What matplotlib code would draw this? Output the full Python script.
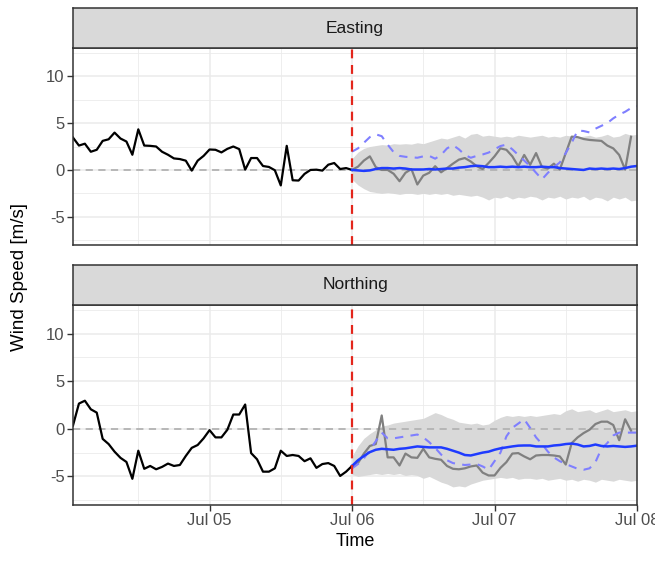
import matplotlib
matplotlib.use('Agg')
import matplotlib.pyplot as plt
import matplotlib.dates as mdates
import pandas as pd

plt.rcParams['font.family'] = ['Liberation Sans', 'DejaVu Sans']
plt.rcParams['axes.unicode_minus'] = False

# ---------------- data ----------------
obs_time = pd.date_range('2021-07-04 01:00', periods=48, freq='h')
fc_time = pd.date_range('2021-07-06 00:00', periods=49, freq='h')
act_time = pd.date_range('2021-07-06 00:00', periods=48, freq='h')

panel_names = ['Easting', 'Northing']

east_obs = [3.45, 2.6, 2.8, 1.94, 2.15, 3.1, 3.27, 3.98, 3.35, 3.03, 1.62, 4.33,
            2.6, 2.57, 2.5, 1.94, 1.62, 1.23, 1.16, 0.99, -0.07, 0.99, 1.5, 2.18,
            2.15, 1.87, 2.25, 2.5, 2.22, 0.03, 1.27, 1.27, 0.42, 0.32, -0.03, -1.65,
            2.57, -1.1, -1.13, -0.42, 0.0, 0.03, -0.07, 0.56, 0.74, 0.1, 0.2, 0.0]
north_obs = [0.35, 2.65, 2.95, 2.05, 1.7, -1.06, -1.6, -2.4, -3.05, -3.48, -5.25, -2.3,
             -4.2, -3.9, -4.25, -4.0, -3.65, -3.9, -3.8, -2.85, -2.0, -1.7, -1.0, -0.14,
             -0.9, -0.9, -0.1, 1.5, 1.5, 2.55, -2.55, -3.2, -4.5, -4.5, -4.15, -2.3,
             -2.85, -2.75, -2.85, -3.4, -3.1, -4.1, -3.7, -3.6, -3.9, -4.95, -4.5, -3.9]

east_mean = [0.0, -0.05, -0.1, -0.05, 0.1, 0.2, 0.2, 0.15, 0.2, 0.15, 0.05, 0.05,
             0.05, 0.1, 0.05, 0.1, 0.15, 0.15, 0.25, 0.3, 0.4, 0.45, 0.4, 0.3,
             0.3, 0.35, 0.3, 0.35, 0.3, 0.35, 0.3, 0.3, 0.35, 0.3, 0.3, 0.2,
             0.15, 0.1, 0.05, 0.0, 0.15, 0.1, 0.15, 0.1, 0.15, 0.1, 0.2, 0.35, 0.42]
north_mean = [-3.9, -3.3, -2.85, -2.45, -2.2, -2.1, -2.15, -2.2, -2.1, -2.05, -1.95, -1.85,
              -1.9, -1.95, -1.95, -1.95, -2.1, -2.3, -2.5, -2.75, -2.8, -2.65, -2.5, -2.4,
              -2.2, -2.05, -1.95, -1.85, -1.77, -1.75, -1.75, -1.85, -1.85, -1.85, -1.75, -1.7,
              -1.6, -1.55, -1.65, -1.85, -1.8, -1.65, -1.8, -1.85, -1.8, -1.85, -1.9, -1.85, -1.77]

east_upper = [1.2, 1.9, 2.3, 2.5, 2.6, 2.7, 2.65, 2.8, 2.75, 2.8, 2.75, 2.9,
              2.8, 3.0, 3.2, 3.4, 3.3, 3.5, 3.7, 3.4, 3.8, 3.9, 3.6, 3.7,
              3.6, 3.5, 3.6, 3.5, 3.7, 3.6, 3.5, 3.6, 3.7, 3.5, 3.6, 3.5,
              3.7, 3.6, 3.5, 3.6, 3.7, 3.5, 3.6, 3.8, 3.5, 3.6, 3.9, 3.7, 3.8]
east_lower = [-1.0, -1.6, -2.0, -2.3, -2.4, -2.5, -2.4, -2.5, -2.6, -2.5, -2.5, -2.6,
              -2.5, -2.6, -2.5, -2.6, -2.5, -2.7, -2.6, -2.7, -2.8, -2.7, -2.9, -3.2,
              -2.9, -3.0, -2.8, -3.1, -2.9, -3.0, -2.8, -2.9, -3.2, -2.9, -3.0, -2.8,
              -3.1, -2.9, -3.0, -2.8, -3.2, -2.9, -3.0, -3.3, -2.9, -3.1, -2.9, -3.3, -3.2]
north_upper = [-2.9, -1.8, -1.0, -0.5, -0.1, 0.3, 0.4, 0.6, 0.7, 0.8, 0.9, 1.0,
               1.1, 1.4, 1.7, 1.5, 1.2, 1.0, 0.7, 0.6, 0.5, 0.6, 0.4, 0.5,
               0.9, 1.2, 1.4, 1.3, 1.4, 1.3, 1.4, 1.3, 1.4, 1.5, 1.6, 1.5,
               1.9, 2.1, 1.8, 1.9, 2.0, 1.7, 1.9, 2.1, 1.8, 1.9, 2.0, 1.8, 1.9]
north_lower = [-4.8, -5.0, -4.9, -4.8, -4.7, -4.8, -4.7, -4.8, -4.7, -4.9, -4.8, -4.9,
               -5.2, -5.0, -5.3, -5.6, -5.8, -6.1, -6.0, -6.1, -5.8, -5.6, -5.4, -5.3,
               -5.2, -5.1, -5.2, -5.1, -5.3, -5.2, -5.2, -5.3, -5.2, -5.4, -5.3, -5.2,
               -5.4, -5.3, -5.5, -5.3, -5.4, -5.6, -5.3, -5.4, -5.5, -5.3, -5.4, -5.5, -5.4]

east_actual = [0.0, 0.35, 1.0, 1.45, 0.3, 0.0, 0.0, -0.4, -1.2, -0.3, 0.1, -1.55,
               -0.6, -0.3, 0.4, -0.25, 0.2, 0.67, 1.1, 1.27, 0.9, 0.4, 0.1, 0.74,
               1.45, 2.3, 2.15, 1.45, 0.4, 1.6, 0.55, 1.8, 0.3, 0.15, 0.67, 0.05,
               1.8, 3.55, 3.5, 3.3, 3.2, 3.15, 3.1, 2.6, 2.3, 1.6, 0.03, 3.55]
north_actual = [-3.9, -3.6, -2.6, -1.8, -1.6, 1.4, -3.0, -3.0, -3.85, -2.6, -3.0, -3.05,
                -2.1, -3.0, -3.15, -3.25, -3.9, -4.2, -4.25, -4.15, -3.95, -3.85, -4.6, -4.9,
                -4.9, -4.1, -3.5, -2.6, -2.55, -2.9, -3.2, -2.8, -2.75, -2.75, -2.8, -2.9,
                -3.75, -1.5, -0.9, -0.45, -0.1, 0.5, 0.75, 0.75, 0.4, -1.2, 1.0, -0.2]

east_alt = [1.95, 2.3, 2.9, 3.5, 3.8, 3.6, 2.7, 1.9, 1.5, 1.4, 1.35, 1.3,
            1.45, 1.5, 1.2, 1.6, 2.3, 2.65, 2.2, 1.6, 1.3, 1.5, 1.65, 1.85,
            2.2, 2.55, 2.7, 2.2, 1.6, 1.0, 0.4, -0.3, -1.0, -0.3, 0.3, 0.8,
            1.8, 2.9, 4.2, 4.15, 4.0, 4.4, 4.7, 5.0, 5.5, 5.9, 6.2, 6.6, 6.8]
north_alt = [-4.15, -3.7, -3.1, -2.2, -1.3, -0.4, -1.0, -1.0, -0.9, -0.8, -0.7, -0.6,
             -0.9, -1.4, -2.0, -2.7, -3.3, -3.6, -3.7, -3.8, -3.75, -3.7, -3.95, -4.3,
             -3.4, -2.5, -0.8, 0.1, 0.55, 1.0, 0.1, -0.9, -1.6, -2.4, -3.0, -3.4,
             -3.7, -3.95, -4.2, -4.3, -4.15, -3.5, -2.1, -1.5, -0.7, -0.4, -0.4, -0.4, -0.4]

y_ticks = [-5, 0, 5, 10]
y_minor = [-7.5, -2.5, 2.5, 7.5, 12.5]
x_ticks = pd.to_datetime(['2021-07-05', '2021-07-06', '2021-07-07', '2021-07-08'])
x_minor = pd.to_datetime(['2021-07-04 12:00', '2021-07-05 12:00', '2021-07-06 12:00', '2021-07-07 12:00'])
split_time = pd.Timestamp('2021-07-06 00:00')

series = {
    'Easting': (east_obs, east_mean, east_upper, east_lower, east_actual, east_alt),
    'Northing': (north_obs, north_mean, north_upper, north_lower, north_actual, north_alt),
}

# ---------------- figure ----------------
W, H = 655, 561
fig = plt.figure(figsize=(W / 100, H / 100), dpi=100)

def fr(x0, y0, x1, y1):
    return [x0 / W, 1 - y1 / H, (x1 - x0) / W, (y1 - y0) / H]

layout = {
    'Easting': (fr(73, 8, 637, 48), fr(73, 48, 637, 245)),
    'Northing': (fr(73, 265, 637, 305), fr(73, 305, 637, 505)),
}

edge = '#333333'
for i, name in enumerate(panel_names):
    srect, prect = layout[name]
    obs, mean, up, lo, act, alt = series[name]

    ax = fig.add_axes(prect)
    ax.set_facecolor('white')
    ax.fill_between(fc_time, lo, up, color='#D9D9D9', lw=0, zorder=2)
    ax.axhline(0, color='#B3B3B3', lw=1.3, ls=(0, (4, 3)), zorder=3)
    ax.plot(obs_time, obs, color='black', lw=1.6, zorder=5)
    ax.plot(act_time, act, color='#808080', lw=1.6, zorder=4)
    ax.plot(fc_time, alt, color='#7F7FFF', lw=1.5, ls=(0, (4, 3.5)), zorder=4)
    ax.plot(fc_time, mean, color='#1F3BFF', lw=1.8, zorder=5)
    ax.axvline(split_time, color='#E3261C', lw=1.6, ls=(0, (4, 3)), zorder=6)

    ax.set_xlim(obs_time[0], fc_time[-1])
    ax.set_ylim(-8, 13)
    ax.set_yticks(y_ticks)
    ax.set_yticks(y_minor, minor=True)
    ax.set_xticks(x_ticks)
    ax.set_xticks(x_minor, minor=True)
    ax.xaxis.set_major_formatter(mdates.DateFormatter('%b %d'))
    ax.grid(True, which='major', color='#EBEBEB', lw=1.1, zorder=0)
    ax.grid(True, which='minor', color='#EBEBEB', lw=0.6, zorder=0)
    ax.set_axisbelow(True)
    for s in ax.spines.values():
        s.set_color(edge)
        s.set_linewidth(1.1)
        s.set_zorder(10)
    ax.tick_params(which='major', direction='out', length=4, width=1.0, color=edge,
                   labelcolor='#4D4D4D', labelsize=12, pad=2)
    ax.tick_params(which='minor', length=0)
    if i == 0:
        ax.tick_params(axis='x', which='both', length=0, labelbottom=False)
    else:
        ax.set_xlabel('Time', fontsize=13, color='black', labelpad=3)

    sax = fig.add_axes(srect)
    sax.set_facecolor('#D9D9D9')
    sax.set_xticks([])
    sax.set_yticks([])
    for s in sax.spines.values():
        s.set_color(edge)
        s.set_linewidth(1.1)
    sax.text(0.5, 0.5, name, ha='center', va='center', fontsize=12.5,
             color='#1A1A1A', transform=sax.transAxes)

fig.text(20 / W, 1 - 277 / H, 'Wind Speed [m/s]', rotation=90, ha='center', va='center',
         fontsize=13.5, color='black')

fig.savefig('out.png', dpi=100)
